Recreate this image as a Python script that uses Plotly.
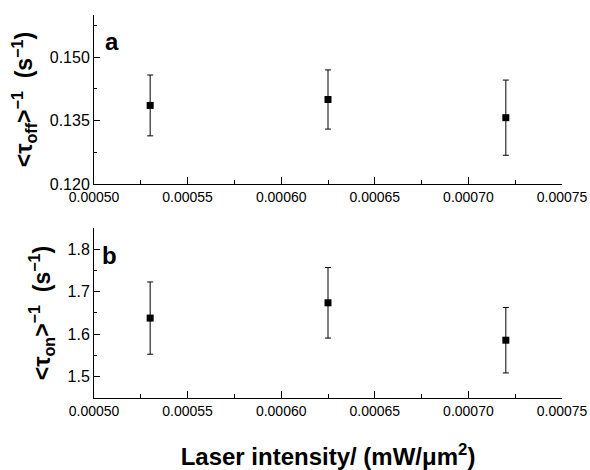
import plotly.graph_objects as go
from plotly.subplots import make_subplots

intensity = [0.000530, 0.000625, 0.000720]
rate_off = [0.1386, 0.1400, 0.1357]
rate_off_err = [0.0072, 0.0070, 0.0089]
rate_on = [1.638, 1.674, 1.586]
rate_on_err = [0.085, 0.083, 0.077]

fig = make_subplots(rows=2, cols=1, vertical_spacing=0.12)

FONT = "Liberation Sans, Arial, sans-serif"

for r, (yv, ye) in enumerate([(rate_off, rate_off_err), (rate_on, rate_on_err)], start=1):
    fig.add_trace(go.Scatter(
        x=intensity, y=yv, mode="markers",
        marker=dict(symbol="square", size=7, color="black"),
        error_y=dict(type="data", array=ye, color="black", thickness=1, width=3),
        showlegend=False), row=r, col=1)

fig.update_xaxes(range=[0.0005, 0.00075], dtick=0.00005, tick0=0.0005, tickformat=".5f",
                 showline=True, linecolor="black", linewidth=1, ticks="inside", ticklen=7,
                 tickcolor="black", showgrid=False, zeroline=False, automargin=False,
                 tickfont=dict(family=FONT, size=14, color="black"),
                 minor=dict(ticks="inside", ticklen=4, dtick=0.000025, tickcolor="black"))
fig.update_yaxes(showline=True, linecolor="black", linewidth=1, ticks="inside", ticklen=6,
                 tickcolor="black", showgrid=False, zeroline=False, automargin=False,
                 tickfont=dict(family=FONT, size=16, color="black"))

fig.update_layout(
    xaxis=dict(domain=[0, 1], anchor="y"),
    yaxis=dict(domain=[0.5587, 1.0], range=[0.12, 0.16], dtick=0.015, tick0=0.12, tickformat=".3f",
               minor=dict(ticks="inside", ticklen=3, dtick=0.0075, tickcolor="black"),
               title=dict(text="<b><τ<sub>off</sub>><sup>−1</sup>  (s<sup>−1</sup>)</b>",
                          font=dict(family=FONT, size=23, color="black"), standoff=10)),
    xaxis2=dict(domain=[0, 1], anchor="y2",
                title=dict(text="<b>Laser intensity/ (mW/μm<sup>2</sup>)</b>",
                           font=dict(family=FONT, size=24, color="black"), standoff=33)),
    yaxis2=dict(domain=[0.0, 0.4439], range=[1.45, 1.85], dtick=0.1, tick0=1.5, tickformat=".1f",
                minor=dict(ticks="inside", ticklen=3, dtick=0.05, tickcolor="black"),
                title=dict(text="<b><τ<sub>on</sub>><sup>−1</sup>  (s<sup>−1</sup>)</b>",
                           font=dict(family=FONT, size=23, color="black"), standoff=10)),
)

fig.add_annotation(text="<b>a</b>", xref="x domain", yref="y domain", x=0.02, y=0.846,
                   xanchor="left", yanchor="middle", showarrow=False,
                   font=dict(family=FONT, size=24, color="black"))
fig.add_annotation(text="<b>b</b>", xref="x2 domain", yref="y2 domain", x=0.012, y=0.84,
                   xanchor="left", yanchor="middle", showarrow=False,
                   font=dict(family=FONT, size=24, color="black"))

fig.update_layout(width=590, height=470, margin=dict(l=94, r=28, t=15, b=72),
                  plot_bgcolor="white", paper_bgcolor="white",
                  font=dict(family=FONT, color="black"))

# remove the default 8px body margin so the figure fills the window exactly
fig.write_html("out.html", config={"displayModeBar": False},
               post_script="document.body.style.margin='0';document.body.style.overflow='hidden';")
